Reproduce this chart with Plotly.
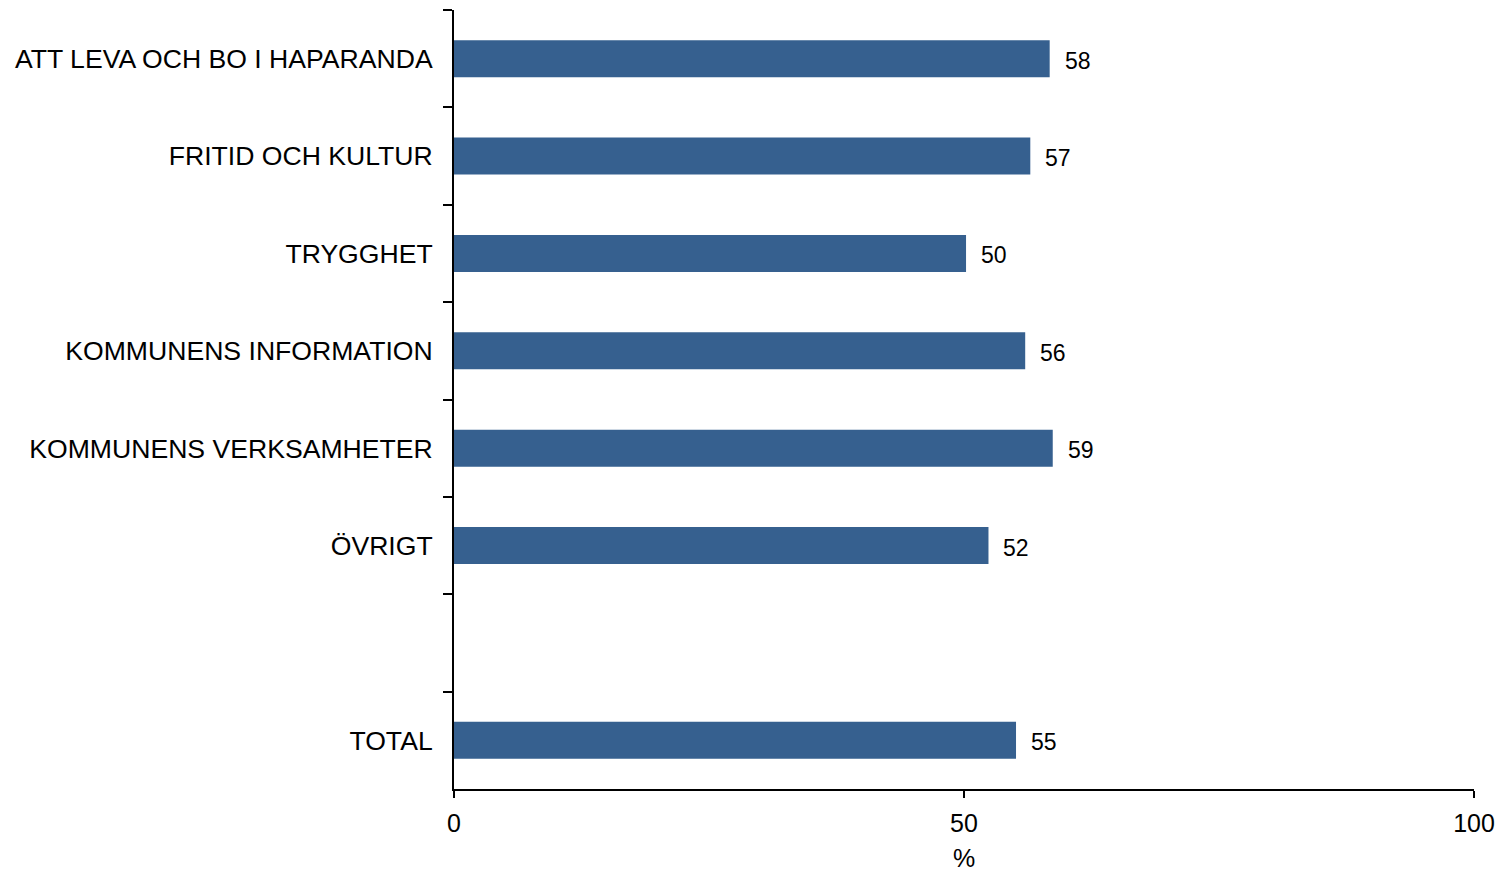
import plotly.graph_objects as go

categories = ["ATT LEVA OCH BO I HAPARANDA", "FRITID OCH KULTUR", "TRYGGHET",
              "KOMMUNENS INFORMATION", "KOMMUNENS VERKSAMHETER", "ÖVRIGT", " ", "TOTAL"]
values = [58.4, 56.5, 50.2, 56.0, 58.7, 52.4, None, 55.1]
labels = ["58", "57", "50", "56", "59", "52", "", "55"]
x_ticks = [0, 50, 100]

font = "Liberation Sans, Arial, sans-serif"
fig = go.Figure()
fig.add_trace(go.Bar(
    y=categories, x=values, orientation="h",
    marker=dict(color="#36608F", line=dict(width=0)),
    width=0.38, showlegend=False, hoverinfo="x+y",
))
for c, v, t in zip(categories, values, labels):
    if v is None:
        continue
    fig.add_annotation(x=v, y=c, text=t, showarrow=False, xanchor="left",
                       xshift=13, yshift=-2, font=dict(family=font, size=23, color="black"))

# page body has an 8px margin; compensate so the plot area lands at x 454-1474, y 10-789
fig.update_layout(
    width=1502, height=865,
    margin=dict(l=446, r=36, t=2, b=84),
    plot_bgcolor="white", paper_bgcolor="white",
    font=dict(family=font, size=25, color="black"),
)
fig.update_xaxes(range=[0, 100], tickvals=x_ticks, ticktext=[str(v) for v in x_ticks],
                 showline=True, linecolor="black", linewidth=2, ticks="outside",
                 ticklen=7, tickwidth=2, tickcolor="black", showgrid=False, zeroline=False,
                 tickfont=dict(size=25), ticklabelstandoff=4,
                 title=dict(text="%", font=dict(size=25), standoff=13))
fig.update_yaxes(categoryorder="array", categoryarray=categories, autorange="reversed",
                 showline=True, linecolor="black", linewidth=2, ticks="outside",
                 tickson="boundaries", ticklen=9, tickwidth=2, tickcolor="black",
                 showgrid=False, zeroline=False, ticklabelstandoff=14,
                 tickfont=dict(size=26.6))
fig.write_html("out.html")
